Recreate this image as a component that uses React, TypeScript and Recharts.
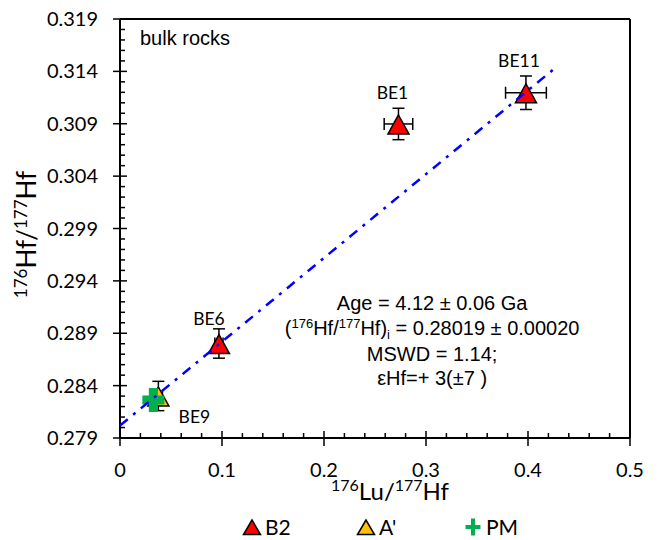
import {
  ErrorBar,
  Label,
  LabelList,
  Legend,
  ReferenceDot,
  ReferenceLine,
  Scatter,
  ScatterChart,
  XAxis,
  YAxis,
} from "recharts";

type HfPoint = {
  name: string;
  lu: number;
  hf: number;
  luErr?: number;
  hfErr?: number;
};

// B2 bulk rocks
const b2Samples: HfPoint[] = [
  { name: "BE6", lu: 0.097, hf: 0.28802, luErr: 0.004, hfErr: 0.0014 },
  { name: "BE1", lu: 0.273, hf: 0.30898, luErr: 0.014, hfErr: 0.0015 },
  { name: "BE11", lu: 0.398, hf: 0.31196, luErr: 0.02, hfErr: 0.0016 },
];

// A' bulk rock
const aPrimeSamples: HfPoint[] = [
  { name: "BE9", lu: 0.0376, hf: 0.28301, luErr: 0.004, hfErr: 0.0014 },
];

// primitive mantle
const pmSamples: HfPoint[] = [{ name: "PM", lu: 0.0327, hf: 0.28263 }];

// isochron end points (intercept 0.28019)
const isochron = [
  { lu: 0, hf: 0.28019 },
  { lu: 0.425, hf: 0.31419 },
];

const xMajor = [0, 0.1, 0.2, 0.3, 0.4, 0.5];
const yMajor = [0.279, 0.284, 0.289, 0.294, 0.299, 0.304, 0.309, 0.314, 0.319];

// minor ticks every 0.02 / 0.001, majors fall on every fifth one
const xTicks = Array.from({ length: 26 }, (_, i) => Number((i * 0.02).toFixed(2)));
const yTicks = Array.from({ length: 41 }, (_, i) => Number((0.279 + i * 0.001).toFixed(3)));

const FONT_TICK = "Lato, 'Open Sans', sans-serif";
const FONT_NOTE = "'Liberation Sans', Arial, sans-serif";

const RED = "#FF0000";
const GOLD = "#FFC000";
const GREEN = "#00B050";
const BLUE = "#0000FF";

const labelOffset: Record<string, [number, number]> = {
  BE11: [-7, -32],
  BE1: [-6, -31],
  BE6: [-10, -25],
  BE9: [36, 21],
};

const isMajor = (v: number, list: number[]) => list.some((m) => Math.abs(m - v) < 1e-7);

function XTick(props: any) {
  const { x, y, payload } = props;
  const v = payload.value as number;
  if (!isMajor(v, xMajor)) {
    return <line x1={x} y1={y - 5} x2={x} y2={y} stroke="#000" strokeWidth={1.5} />;
  }
  return (
    <g>
      <line x1={x} y1={y - 7} x2={x} y2={y + 8} stroke="#000" strokeWidth={1.5} />
      <text x={x} y={y + 39} textAnchor="middle" fontSize={20} fontFamily={FONT_TICK} fill="#000">
        {String(Number(v.toFixed(1)))}
      </text>
    </g>
  );
}

function YTick(props: any) {
  const { x, y, payload } = props;
  const v = payload.value as number;
  if (!isMajor(v, yMajor)) {
    return <line x1={x} y1={y} x2={x + 5} y2={y} stroke="#000" strokeWidth={1.5} />;
  }
  return (
    <g>
      <line x1={x - 7} y1={y} x2={x + 7} y2={y} stroke="#000" strokeWidth={1.5} />
      <text x={x - 22} y={y + 7} textAnchor="end" fontSize={20} fontFamily={FONT_TICK} fill="#000">
        {v.toFixed(3)}
      </text>
    </g>
  );
}

function Triangle(props: any) {
  const { cx, cy, fill, w = 10.5, up = 9, down = 10 } = props;
  if (cx == null || cy == null) return null;
  return (
    <polygon
      points={`${cx},${cy - up} ${cx - w},${cy + down} ${cx + w},${cy + down}`}
      fill={fill}
      stroke="#000"
      strokeWidth={1.5}
    />
  );
}

function Plus(props: any) {
  const { cx, cy, half = 11, stroke = GREEN, width = 4 } = props;
  if (cx == null || cy == null) return null;
  return (
    <g stroke={stroke} strokeWidth={width}>
      <line x1={cx - half} y1={cy} x2={cx + half} y2={cy} />
      <line x1={cx} y1={cy - half - 1} x2={cx} y2={cy + half + 1} />
    </g>
  );
}

function PointLabel(props: any) {
  const vb = props.viewBox ?? props;
  const cx = vb.x + (vb.width ?? 0) / 2;
  const cy = vb.y + (vb.height ?? 0) / 2;
  const [dx, dy] = labelOffset[props.value] ?? [0, -25];
  return (
    <text
      x={cx + dx}
      y={cy + dy + 6}
      textAnchor="middle"
      fontSize={17.5}
      fontFamily={FONT_TICK}
      fill="#000"
    >
      {props.value}
    </text>
  );
}

function XTitle(props: any) {
  const { x, y, width } = props.viewBox;
  return (
    <text x={x + width / 2 + 15} y={y + 62} textAnchor="middle" fontFamily={FONT_TICK} fill="#000" fontSize={24}>
      <tspan fontSize={16} dy={-9}>176</tspan>
      <tspan dy={9}>Lu/</tspan>
      <tspan fontSize={16} dy={-9}>177</tspan>
      <tspan dy={9}>Hf</tspan>
    </text>
  );
}

function YTitle(props: any) {
  const { y, height } = props.viewBox;
  const cx = 28;
  const cy = y + height / 2 + 6;
  return (
    <text
      x={cx}
      y={cy}
      transform={`rotate(-90, ${cx}, ${cy})`}
      textAnchor="middle"
      fontFamily={FONT_TICK}
      fill="#000"
      fontSize={26}
    >
      <tspan fontSize={17} dy={-9}>176</tspan>
      <tspan dy={9}>Hf/</tspan>
      <tspan fontSize={17} dy={-9}>177</tspan>
      <tspan dy={9}>Hf</tspan>
    </text>
  );
}

function Note(props: any) {
  const { x, y } = props.viewBox;
  const common = { x, textAnchor: "middle" as const, fontFamily: FONT_NOTE, fontSize: 20, fill: "#000" };
  return (
    <g>
      <text {...common} y={y}>Age = 4.12 ± 0.06 Ga</text>
      <text {...common} y={y + 25}>
        (<tspan fontSize={13} dy={-7}>176</tspan>
        <tspan dy={7}>Hf/</tspan>
        <tspan fontSize={13} dy={-7}>177</tspan>
        <tspan dy={7}>Hf)</tspan>
        <tspan fontSize={13} dy={4}>i</tspan>
        <tspan dy={-4}> = 0.28019 ± 0.00020</tspan>
      </text>
      <text {...common} y={y + 51}>MSWD = 1.14;</text>
      <text {...common} y={y + 75}>εHf=+ 3(±7 )</text>
    </g>
  );
}

function BulkTag(props: any) {
  const { x, y } = props.viewBox;
  return (
    <text x={x} y={y} fontFamily={FONT_NOTE} fontSize={20} fill="#000">
      bulk rocks
    </text>
  );
}

const legendItems = [
  { label: "B2", kind: "triangle", color: RED, at: 244 },
  { label: "A'", kind: "triangle", color: GOLD, at: 358 },
  { label: "PM", kind: "plus", color: GREEN, at: 465 },
];

function LegendContent() {
  const cy = 19;
  return (
    <svg width={650} height={30} style={{ display: "block" }}>
      {legendItems.map((item) => (
        <g key={item.label}>
          {item.kind === "triangle" ? (
            <Triangle cx={item.at} cy={cy} fill={item.color} w={8.5} up={7} down={7.5} />
          ) : (
            <Plus cx={item.at} cy={cy} half={7.5} stroke={item.color} width={4} />
          )}
          <text x={item.at + 13} y={cy + 7.5} fontFamily={FONT_TICK} fontSize={21} fill="#000">
            {item.label}
          </text>
        </g>
      ))}
    </svg>
  );
}

export default function App() {
  return (
    <ScatterChart width={650} height={530} margin={{ top: 11, right: 28, bottom: 0, left: 0 }}>
      <XAxis
        dataKey="lu"
        type="number"
        domain={[0, 0.5]}
        ticks={xTicks}
        interval={0}
        tick={<XTick />}
        tickLine={false}
        tickSize={0}
        tickMargin={0}
        height={70}
        axisLine={{ stroke: "#000", strokeWidth: 2 }}
      >
        <Label content={<XTitle />} />
      </XAxis>
      <YAxis
        dataKey="hf"
        type="number"
        domain={[0.279, 0.319]}
        ticks={yTicks}
        interval={0}
        tick={<YTick />}
        tickLine={false}
        tickSize={0}
        tickMargin={0}
        width={112}
        axisLine={{ stroke: "#000", strokeWidth: 2 }}
      >
        <Label content={<YTitle />} />
      </YAxis>
      <ReferenceLine y={0.319} stroke="#000" strokeWidth={2} />
      <ReferenceLine x={0.5} stroke="#000" strokeWidth={2} />
      <Legend
        verticalAlign="bottom"
        content={<LegendContent />}
        wrapperStyle={{ left: 0, bottom: 0, width: 650, height: 30 }}
      />
      <ReferenceDot x={0.0196} y={0.31652} r={0} fill="none" stroke="none" label={<BulkTag />} />
      <ReferenceDot x={0.306} y={0.2912} r={0} fill="none" stroke="none" label={<Note />} />

      <Scatter name="B2" data={b2Samples} isAnimationActive={false} shape={(p: any) => <Triangle {...p} fill={RED} />}>
        <ErrorBar dataKey="luErr" direction="x" width={6} stroke="#000" strokeWidth={1.5} />
        <ErrorBar dataKey="hfErr" direction="y" width={6} stroke="#000" strokeWidth={1.5} />
        <LabelList dataKey="name" content={<PointLabel />} />
      </Scatter>
      <Scatter name="A'" data={aPrimeSamples} isAnimationActive={false} shape={(p: any) => <Triangle {...p} fill={GOLD} />}>
        <ErrorBar dataKey="luErr" direction="x" width={6} stroke="#000" strokeWidth={1.5} />
        <ErrorBar dataKey="hfErr" direction="y" width={6} stroke="#000" strokeWidth={1.5} />
        <LabelList dataKey="name" content={<PointLabel />} />
      </Scatter>
      <Scatter name="PM" data={pmSamples} isAnimationActive={false} shape={(p: any) => <Plus {...p} />} />
      <Scatter
        name="isochron"
        data={isochron}
        isAnimationActive={false}
        line={{ stroke: BLUE, strokeWidth: 2.5, strokeDasharray: "10 7 3 7" }}
        shape={() => <g />}
        legendType="none"
      />
    </ScatterChart>
  );
}
